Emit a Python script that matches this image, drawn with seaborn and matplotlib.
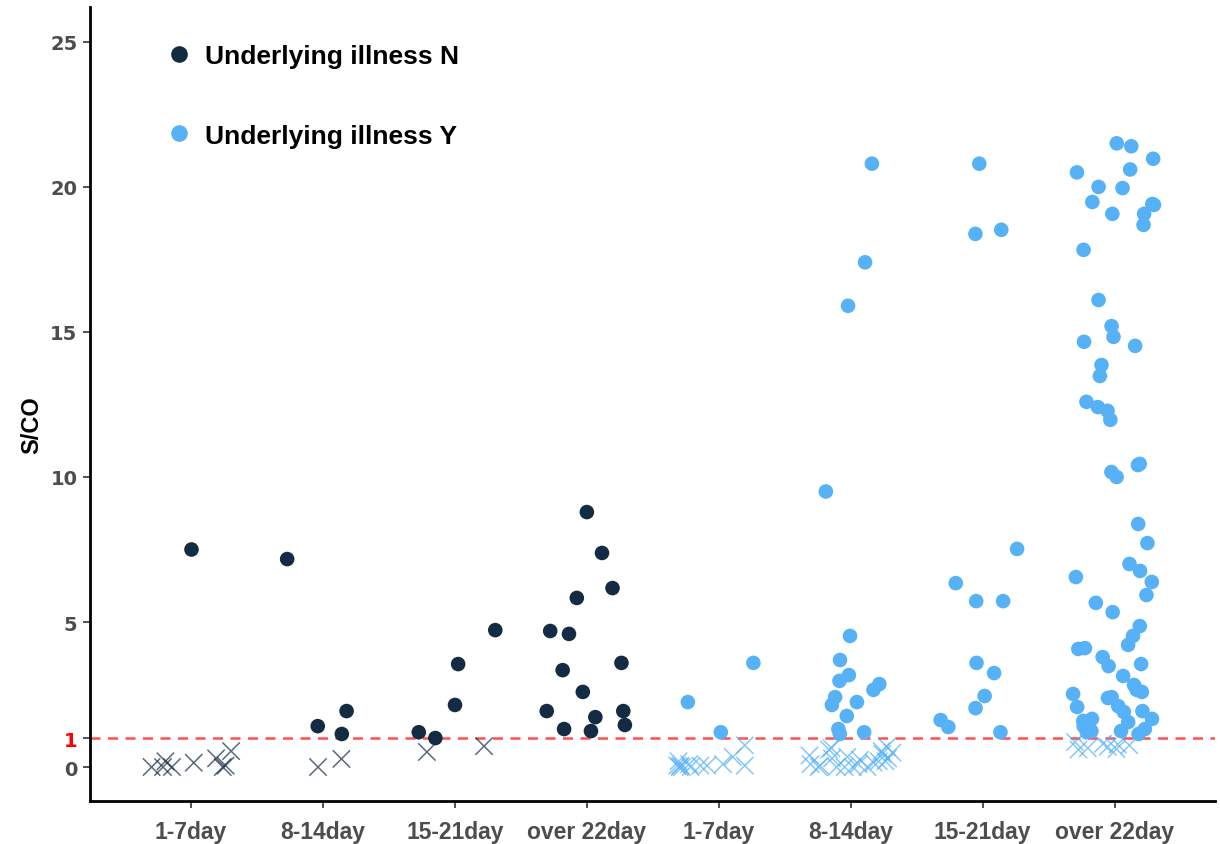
import numpy as np
import pandas as pd
import matplotlib
matplotlib.use("Agg")
import matplotlib.pyplot as plt
from matplotlib.lines import Line2D
import seaborn as sns

# ---------------- data ----------------
periods = ["1-7day", "8-14day", "15-21day", "over 22day"]
groups = ["N", "Y"]

N_1_7 = [7.52, 0.0, 0.15, 0.3, 0.55, 0.0, 0.0, 0.0, 0.05, 0.2]
N_8_14 = [7.17, 1.93, 1.41, 1.14, 0.0, 0.28]
N_15_21 = [4.72, 3.55, 2.14, 1.2, 1.0, 0.72, 0.52]
N_over22 = [8.79, 7.38, 6.17, 5.83, 4.69, 4.59, 3.59, 3.34, 2.59, 1.93, 1.93,
            1.72, 1.45, 1.31, 1.24]

Y_1_7 = [3.59, 2.24, 1.2, 0.35, 0.75, 0.1, 0.0, 0.0, 0.05, 0.05, 0.05, 0.05,
         0.05, 0.0, 0.1, 0.2]
Y_8_14 = [20.8, 17.4, 15.9, 9.5, 4.52, 3.69, 3.17, 2.97, 2.86, 2.66, 2.41,
          2.24, 2.14, 1.76, 1.31, 1.2, 1.14,
          0.0, 0.0, 0.0, 0.05, 0.0, 0.1, 0.3, 0.5, 0.6, 0.4, 0.2, 0.7, 0.35,
          0.15, 0.55, 0.25, 0.45, 0.1, 0.65, 0.3, 0.0, 0.2]
Y_15_21 = [20.8, 18.52, 18.38, 7.52, 6.34, 5.72, 5.72, 3.59, 3.24, 2.45, 2.03,
           1.62, 1.38, 1.2]
Y_over22 = [21.5, 21.4, 20.97, 20.6, 20.5, 20.0, 19.96, 19.48, 19.38, 19.41,
            19.07, 19.07, 18.69, 17.83, 16.1, 15.2, 14.52, 14.83, 14.66, 13.86,
            13.48, 12.41, 12.59, 12.28, 11.97,
            10.41, 10.45, 10.0, 10.17, 8.38, 7.72, 7.0, 6.76, 6.38, 6.55, 5.93,
            5.66, 5.34, 4.86, 4.52, 4.1, 4.21, 4.07, 3.79, 3.55, 3.48, 3.14,
            2.83, 2.59, 2.66, 2.52, 2.38, 2.41, 2.07, 2.1, 1.9, 1.93, 1.66, 1.59,
            1.66, 1.55, 1.41, 1.24, 1.24, 1.2, 1.14, 1.31,
            0.86, 0.75, 0.6, 0.8, 0.7, 0.65, 0.62, 0.78]

series = {
    ("N", "1-7day"): N_1_7, ("N", "8-14day"): N_8_14,
    ("N", "15-21day"): N_15_21, ("N", "over 22day"): N_over22,
    ("Y", "1-7day"): Y_1_7, ("Y", "8-14day"): Y_8_14,
    ("Y", "15-21day"): Y_15_21, ("Y", "over 22day"): Y_over22,
}
cutoff = 1.0

rows = []
for (g, p), vals in series.items():
    for v in vals:
        rows.append({"group": g, "period": p, "cat": f"{g}|{p}", "value": v})
df = pd.DataFrame(rows)
order = [f"{g}|{p}" for g in groups for p in periods]
tick_labels = [p for g in groups for p in periods]

colors = {"N": "#132B43", "Y": "#56B1F7"}

# ---------------- plot ----------------
sns.set_style("white")
fig = plt.figure(figsize=(12.2, 8.45), dpi=100)
ax = fig.add_axes([0.0738, 0.0509, 0.9221, 0.9396])

np.random.seed(7)
pos = df[df["value"] >= cutoff]
neg = df[df["value"] < cutoff]
sns.stripplot(data=pos, x="cat", y="value", hue="group", order=order,
              hue_order=groups, palette=colors, jitter=0.32, size=10.5,
              marker="o", linewidth=0, ax=ax, legend=False, zorder=3)
sns.stripplot(data=neg, x="cat", y="value", hue="group", order=order,
              hue_order=groups, palette=colors, jitter=0.32, size=12.5,
              marker="x", linewidth=1.1, alpha=0.7, ax=ax, legend=False,
              zorder=2)

ax.axhline(cutoff, color="#FF3030", linestyle=(0, (4, 3)), linewidth=1.8,
           alpha=0.85, zorder=1)

ax.set_xlim(0.235 - 1, 8.76 - 1)
ax.set_ylim(-1.17, 26.2)

ax.set_xticks(range(len(order)))
ax.set_xticklabels(tick_labels, fontsize=16.5, fontweight="bold",
                   color="#4D4D4D", family="Liberation Sans")
yt = [0, 1, 5, 10, 15, 20, 25]
ax.set_yticks(yt)
ax.set_yticklabels([str(t) for t in yt], fontsize=14, fontweight="bold",
                   color="#4D4D4D", family="DejaVu Sans")
for lab, t in zip(ax.get_yticklabels(), yt):
    if t == 1:
        lab.set_color("red")
ax.tick_params(axis="y", direction="out", length=5, width=1.2,
               color="#333333", left=True, pad=4)
ax.tick_params(axis="x", direction="out", length=5, width=1.2,
               color="#333333", bottom=True, pad=9)
for tk, t in zip(ax.yaxis.get_major_ticks(), yt):
    if t == 1:
        tk.tick1line.set_color("red")

ax.set_xlabel("")
ax.set_ylabel("S/CO", fontsize=17, fontweight="bold", color="black",
              family="Liberation Sans")
ax.yaxis.set_label_coords(-0.042, 0.475)

for s in ["top", "right"]:
    ax.spines[s].set_visible(False)
for s in ["left", "bottom"]:
    ax.spines[s].set_color("black")
    ax.spines[s].set_linewidth(2)

handles = [Line2D([], [], marker="o", linestyle="", markersize=12,
                  markerfacecolor=colors[g], markeredgewidth=0,
                  label=f"Underlying illness {g}") for g in groups]
leg = ax.legend(handles=handles, loc="upper left", bbox_to_anchor=(0.0435, 0.983),
                frameon=False, labelspacing=2.1, handletextpad=0.4,
                handlelength=1.2,
                prop={"family": "Liberation Sans", "weight": "bold", "size": 19})
for t in leg.get_texts():
    t.set_color("black")

fig.savefig("out.png", dpi=100)
